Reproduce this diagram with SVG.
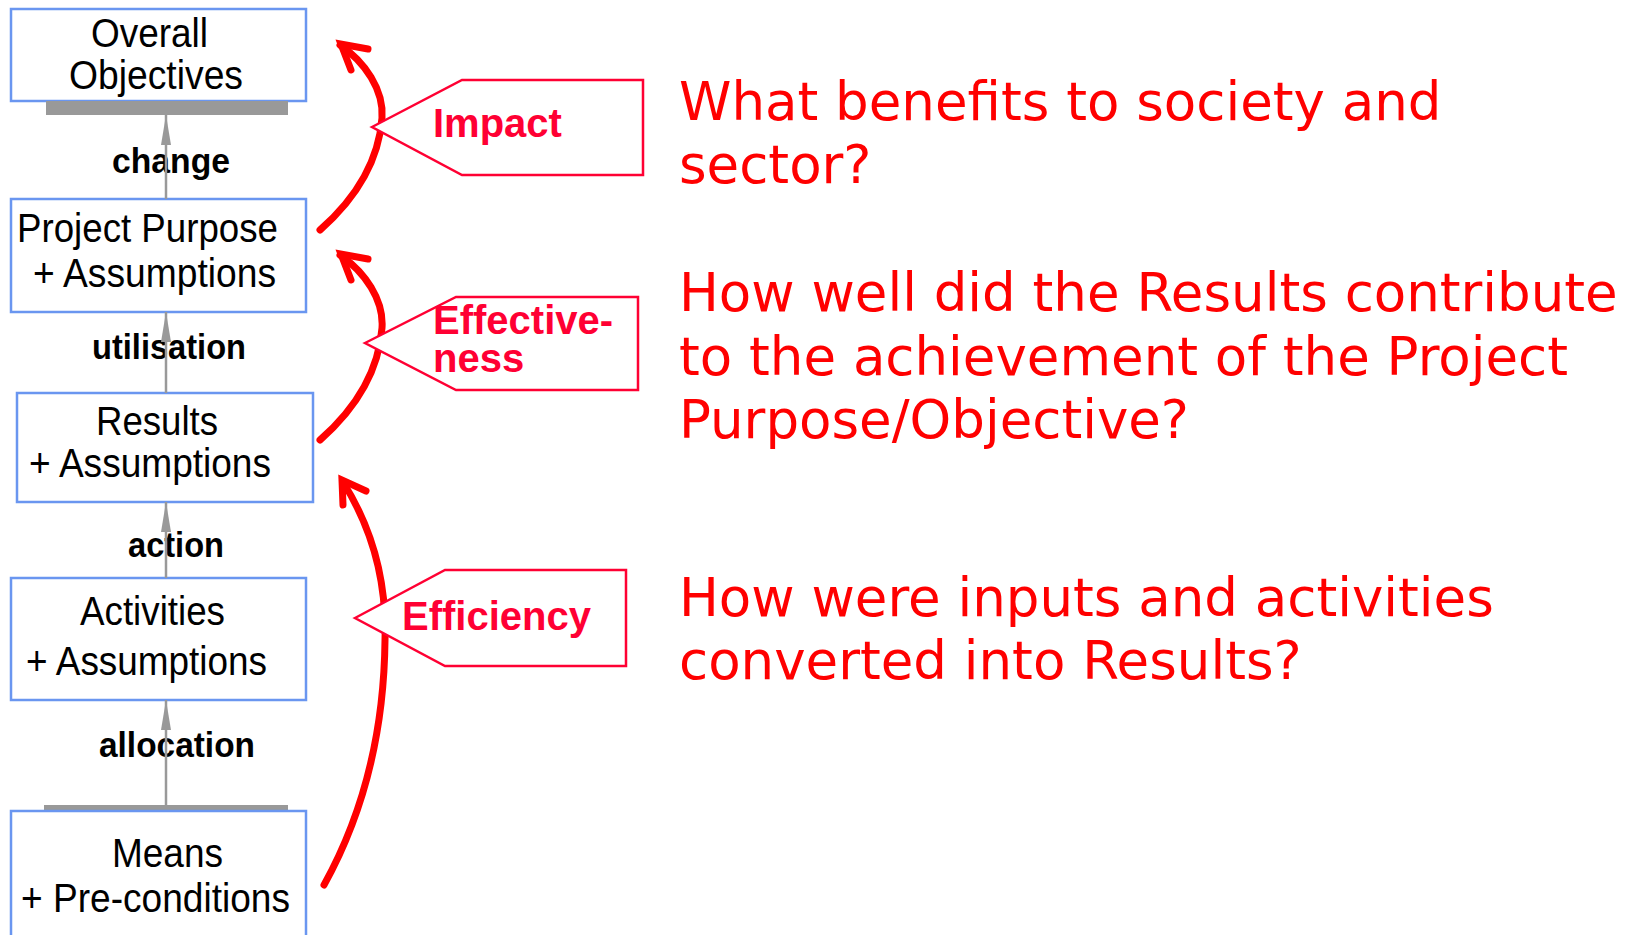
<svg xmlns="http://www.w3.org/2000/svg" width="1636" height="935" viewBox="0 0 1636 935">
  <defs>
    <style>
      .box { fill: #ffffff; stroke: #6a96f0; stroke-width: 2.5; }
      .boxtext { font-family: "Liberation Sans", Arial, sans-serif; font-size: 40px; fill: #000000; }
      .label { font-family: "Liberation Sans", Arial, sans-serif; font-size: 35px; font-weight: bold; fill: #000000; }
      .bar { fill: #999999; }
      .link { stroke: #999999; stroke-width: 2.5; fill: none; marker-end: url(#grayHead); }
      .sweep { stroke: #ff0000; stroke-width: 7; fill: none; stroke-linecap: round; stroke-linejoin: miter; }
      .tag { fill: #ffffff; stroke: #ff0033; stroke-width: 2.5; }
      .tagtext { font-family: "Liberation Sans", Arial, sans-serif; font-size: 40px; font-weight: bold; fill: #ff0033; }
      .question { font-family: "DejaVu Sans", Verdana, sans-serif; font-size: 53px; fill: #ff0000; }
    </style>
    <marker id="grayHead" markerUnits="userSpaceOnUse" markerWidth="30" markerHeight="12" refX="30" refY="6" orient="auto">
      <path d="M0,1 L30,6 L0,11 z" fill="#999999"/>
    </marker>
  </defs>

  <rect width="1636" height="935" fill="#ffffff"/>

  <!-- logframe levels -->
  <g id="overall-objectives">
    <rect class="box" x="11" y="9" width="295" height="92"/>
    <text class="boxtext" x="91" y="47" textLength="117" lengthAdjust="spacingAndGlyphs">Overall</text>
    <text class="boxtext" x="69" y="89" textLength="174" lengthAdjust="spacingAndGlyphs">Objectives</text>
    <rect class="bar" x="46" y="101" width="242" height="14"/>
  </g>

  <g id="project-purpose">
    <rect class="box" x="11" y="199" width="295" height="113"/>
    <text class="boxtext" x="17" y="242" textLength="261" lengthAdjust="spacingAndGlyphs">Project Purpose</text>
    <text class="boxtext" x="33" y="287" textLength="243" lengthAdjust="spacingAndGlyphs">+ Assumptions</text>
  </g>

  <g id="results">
    <rect class="box" x="17" y="393" width="296" height="109"/>
    <text class="boxtext" x="96" y="435" textLength="122" lengthAdjust="spacingAndGlyphs">Results</text>
    <text class="boxtext" x="29" y="477" textLength="242" lengthAdjust="spacingAndGlyphs">+ Assumptions</text>
  </g>

  <g id="activities">
    <rect class="box" x="11" y="578" width="295" height="122"/>
    <text class="boxtext" x="80" y="625" textLength="145" lengthAdjust="spacingAndGlyphs">Activities</text>
    <text class="boxtext" x="26" y="675" textLength="241" lengthAdjust="spacingAndGlyphs">+ Assumptions</text>
  </g>

  <g id="means">
    <rect class="bar" x="44" y="805" width="244" height="5"/>
    <rect class="box" x="11" y="811" width="295" height="150"/>
    <text class="boxtext" x="112" y="867" textLength="111" lengthAdjust="spacingAndGlyphs">Means</text>
    <text class="boxtext" x="21" y="912" textLength="269" lengthAdjust="spacingAndGlyphs">+ Pre-conditions</text>
  </g>

  <!-- vertical links between levels -->
  <g id="connectors">
    <text class="label" x="112" y="173" textLength="118" lengthAdjust="spacingAndGlyphs">change</text>
    <text class="label" x="92" y="359" textLength="154" lengthAdjust="spacingAndGlyphs">utilisation</text>
    <text class="label" x="128" y="557" textLength="96" lengthAdjust="spacingAndGlyphs">action</text>
    <text class="label" x="99" y="757" textLength="156" lengthAdjust="spacingAndGlyphs">allocation</text>
    <line class="link" x1="166" y1="199" x2="166" y2="115"/>
    <line class="link" x1="166" y1="393" x2="166" y2="312"/>
    <line class="link" x1="166" y1="578" x2="166" y2="502"/>
    <line class="link" x1="166" y1="805" x2="166" y2="700"/>
  </g>

  <!-- evaluation sweeps -->
  <g id="impact-arrow">
    <path class="sweep" d="M320,230 C345,208 378,170 382,118 C384,90 365,62 340,45"/>
    <path class="sweep" d="M368,49 L341,44 L351,70"/>
  </g>
  <g id="effectiveness-arrow" transform="translate(0,210)">
    <path class="sweep" d="M320,230 C345,208 378,170 382,118 C384,90 365,62 340,45"/>
    <path class="sweep" d="M368,49 L341,44 L351,70"/>
  </g>
  <g id="efficiency-arrow">
    <path class="sweep" d="M343,482 C370,525 387,575 385,640 C384,740 360,820 324,885"/>
    <path class="sweep" d="M366,491 L342,480 L343,505"/>
  </g>

  <!-- criterion tags -->
  <g id="impact">
    <path class="tag" d="M372,127 L462,80 L643,80 L643,175 L462,175 Z"/>
    <text class="tagtext" x="433" y="137">Impact</text>
  </g>
  <g id="effectiveness">
    <path class="tag" d="M365,343 L456,297 L638,297 L638,390 L456,390 Z"/>
    <text class="tagtext" x="433" y="334">Effective-</text>
    <text class="tagtext" x="433" y="372">ness</text>
  </g>
  <g id="efficiency">
    <path class="tag" d="M355,618 L445,570 L626,570 L626,666 L445,666 Z"/>
    <text class="tagtext" x="402" y="630">Efficiency</text>
  </g>

  <!-- guiding questions -->
  <g id="impact-question">
    <text class="question" x="679" y="120">What benefits to society and</text>
    <text class="question" x="679" y="183">sector?</text>
  </g>
  <g id="effectiveness-question">
    <text class="question" x="679" y="311">How well did the Results contribute</text>
    <text class="question" x="679" y="375">to the achievement of the Project</text>
    <text class="question" x="679" y="438">Purpose/Objective?</text>
  </g>
  <g id="efficiency-question">
    <text class="question" x="679" y="616">How were inputs and activities</text>
    <text class="question" x="679" y="679">converted into Results?</text>
  </g>
</svg>
